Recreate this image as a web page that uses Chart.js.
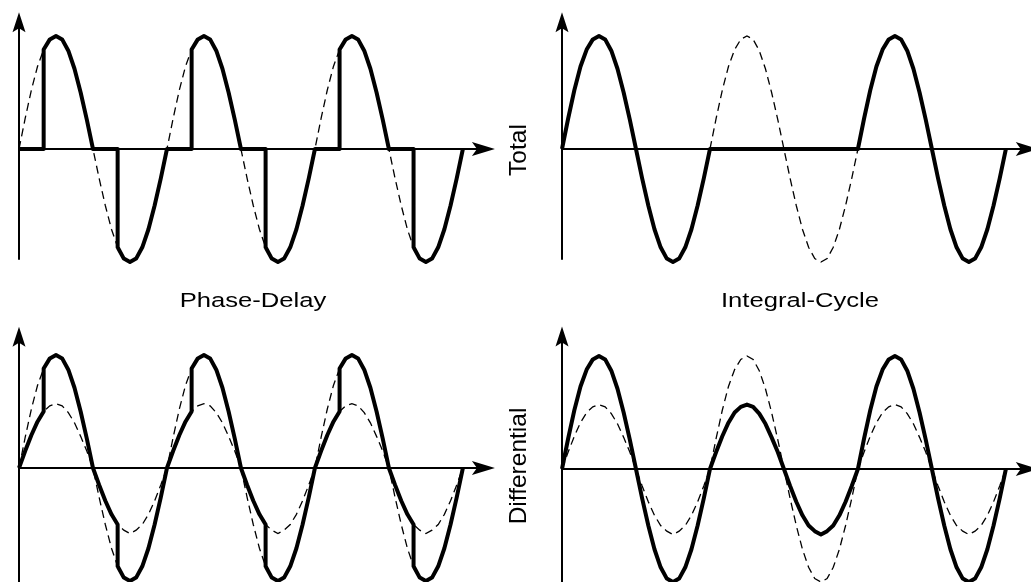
<!DOCTYPE html>
<html>
<head>
<meta charset="utf-8">
<script src="https://cdn.jsdelivr.net/npm/chart.js@4"></script>
<style>
  html, body { margin: 0; padding: 0; background: #fff; }
  #wrap { position: relative; width: 1031px; height: 582px; overflow: hidden; }
  canvas { position: absolute; }
  .lbl { position: absolute; font-family: "Liberation Sans", Arial, sans-serif; color: #000; white-space: nowrap; }
  .flat { font-size: 20.5px; line-height: 20.5px; transform: translate(-50%, -50%) scaleX(1.25); }
  .side { font-size: 24.5px; line-height: 24.5px; transform: translate(-50%, -50%) rotate(-90deg); }
</style>
</head>
<body>
<div id="wrap">
  <canvas id="phase" width="515" height="290" style="left:0;top:0"></canvas>
  <canvas id="integral" width="520" height="290" style="left:511px;top:0"></canvas>
  <canvas id="phaseDiff" width="515" height="264" style="left:0;top:318px"></canvas>
  <canvas id="integralDiff" width="520" height="264" style="left:511px;top:318px"></canvas>
  <div class="lbl flat" style="left:253px;top:300px">Phase-Delay</div>
  <div class="lbl flat" style="left:800px;top:300px">Integral-Cycle</div>
  <div class="lbl side" style="left:518px;top:150px">Total</div>
  <div class="lbl side" style="left:518px;top:466px">Differential</div>
</div>
<script>
// one mains cycle, degrees (15 degree steps)
const cycleDeg = [0, 15, 30, 45, 60, 75, 90, 105, 120, 135, 150, 165, 180,
  195, 210, 225, 240, 255, 270, 285, 300, 315, 330, 345, 360];
const fullVals = [0, 0.27, 0.52, 0.73, 0.88, 0.97, 1.0, 0.97, 0.87, 0.71, 0.5, 0.26, 0,
  -0.26, -0.5, -0.71, -0.87, -0.97, -1.0, -0.97, -0.87, -0.71, -0.5, -0.26, 0];
const reducedVals = [0, 0.15, 0.29, 0.41, 0.5, 0.55, 0.57, 0.55, 0.49, 0.4, 0.28, 0.15, 0,
  -0.15, -0.29, -0.41, -0.5, -0.55, -0.58, -0.55, -0.5, -0.41, -0.29, -0.15, 0];

// phase-delay: off until 60 deg, then follows the supply
const phaseDeg = [0, 60, 60, 75, 90, 105, 120, 135, 150, 165, 180,
  240, 240, 255, 270, 285, 300, 315, 330, 345, 360];
const phaseVals = [0, 0, 0.88, 0.97, 1.0, 0.97, 0.87, 0.71, 0.5, 0.26, 0,
  0, -0.87, -0.97, -1.0, -0.97, -0.87, -0.71, -0.5, -0.26, 0];

// phase-delay on top of a half load
const mixedDeg = [0, 15, 30, 45, 60, 60, 75, 90, 105, 120, 135, 150, 165, 180,
  195, 210, 225, 240, 240, 255, 270, 285, 300, 315, 330, 345, 360];
const mixedVals = [0, 0.15, 0.29, 0.41, 0.5, 0.88, 0.97, 1.0, 0.97, 0.87, 0.71, 0.5, 0.26, 0,
  -0.15, -0.29, -0.41, -0.5, -0.87, -0.97, -1.0, -0.97, -0.87, -0.71, -0.5, -0.26, 0];

const offDeg = [0, 360];
const offVals = [0, 0];

// which shape each of the three cycles uses
const phaseSolid = ["phase", "phase", "phase"];
const phaseRef = ["full", "full", "full"];
const integralSolid = ["full", "off", "full"];
const integralRef = [null, "full", null];
const phaseDiffSolid = ["mixed", "mixed", "mixed"];
const phaseDiffRef = ["reduced", "reduced", "reduced"];
const integralDiffSolid = ["full", "reduced", "full"];
const integralDiffRef = ["reduced", "full", "reduced"];

const shapes = {
  full: [cycleDeg, fullVals],
  reduced: [cycleDeg, reducedVals],
  phase: [phaseDeg, phaseVals],
  mixed: [mixedDeg, mixedVals],
  off: [offDeg, offVals],
};

function buildSeries(pattern) {
  const pts = [];
  pattern.forEach((name, i) => {
    if (!name) return;
    const [xs, ys] = shapes[name];
    xs.forEach((x, j) => pts.push({ x: x + i * 360, y: ys[j] }));
  });
  return pts;
}

const PX_PER_DEG = 0.411;
const PX_PER_UNIT = 113;

// draws the two arrowed axes through the chart scales
const arrowAxes = {
  id: "arrowAxes",
  beforeDatasetsDraw(chart, args, opts) {
    const ctx = chart.ctx;
    const xs = chart.scales.x, ys = chart.scales.y;
    const x0 = xs.getPixelForValue(0), y0 = ys.getPixelForValue(0);
    const xEnd = xs.getPixelForValue(opts.xEnd);
    const yTop = ys.getPixelForValue(opts.yTop);
    const yBot = ys.getPixelForValue(opts.yBottom);
    ctx.save();
    ctx.strokeStyle = "#000";
    ctx.fillStyle = "#000";
    ctx.lineWidth = 2;
    ctx.beginPath();
    ctx.moveTo(x0, y0);
    ctx.lineTo(xEnd - 12, y0);
    ctx.moveTo(x0, yBot);
    ctx.lineTo(x0, yTop + 10);
    ctx.stroke();
    // x arrow
    ctx.beginPath();
    ctx.moveTo(xEnd, y0);
    ctx.lineTo(xEnd - 23, y0 - 7);
    ctx.lineTo(xEnd - 18, y0);
    ctx.lineTo(xEnd - 23, y0 + 7);
    ctx.closePath();
    ctx.fill();
    // y arrow
    ctx.beginPath();
    ctx.moveTo(x0, yTop);
    ctx.lineTo(x0 - 6.5, yTop + 20);
    ctx.lineTo(x0, yTop + 16);
    ctx.lineTo(x0 + 6.5, yTop + 20);
    ctx.closePath();
    ctx.fill();
    ctx.restore();
  },
};

function makePanel(canvasId, originX, originY, solid, ref, extraRef, axis) {
  const el = document.getElementById(canvasId);
  const w = el.width, h = el.height;
  const datasets = [];
  const dashed = {
    borderColor: "#000",
    borderWidth: 1.3,
    borderDash: [8, 5],
    pointRadius: 0,
    fill: false,
  };
  if (extraRef) datasets.push(Object.assign({ data: buildSeries(extraRef) }, dashed));
  datasets.push(Object.assign({ data: buildSeries(ref) }, dashed));
  datasets.push({
    data: buildSeries(solid),
    borderColor: "#000",
    borderWidth: 4,
    pointRadius: 0,
    fill: false,
    borderCapStyle: "butt",
    borderJoinStyle: "round",
  });

  return new Chart(el, {
    type: "line",
    data: { datasets: datasets },
    options: {
      responsive: false,
      animation: false,
      events: [],
      layout: { padding: 0 },
      plugins: {
        legend: { display: false },
        tooltip: { enabled: false },
        arrowAxes: axis,
      },
      scales: {
        x: {
          type: "linear",
          display: false,
          min: -originX / PX_PER_DEG,
          max: (w - originX) / PX_PER_DEG,
        },
        y: {
          type: "linear",
          display: false,
          min: -(h - originY) / PX_PER_UNIT,
          max: originY / PX_PER_UNIT,
        },
      },
    },
    plugins: [arrowAxes],
  });
}

makePanel("phase", 19, 149, phaseSolid, phaseRef, null,
  { xEnd: 1158, yTop: 1.21, yBottom: -0.98 });
makePanel("integral", 51, 149, integralSolid, integralRef, null,
  { xEnd: 1160, yTop: 1.21, yBottom: -0.98 });
makePanel("phaseDiff", 19, 150, phaseDiffSolid, phaseDiffRef, phaseRef,
  { xEnd: 1158, yTop: 1.25, yBottom: -1.03 });
makePanel("integralDiff", 51, 151, integralDiffSolid, integralDiffRef, null,
  { xEnd: 1160, yTop: 1.26, yBottom: -1.03 });
</script>
</body>
</html>
